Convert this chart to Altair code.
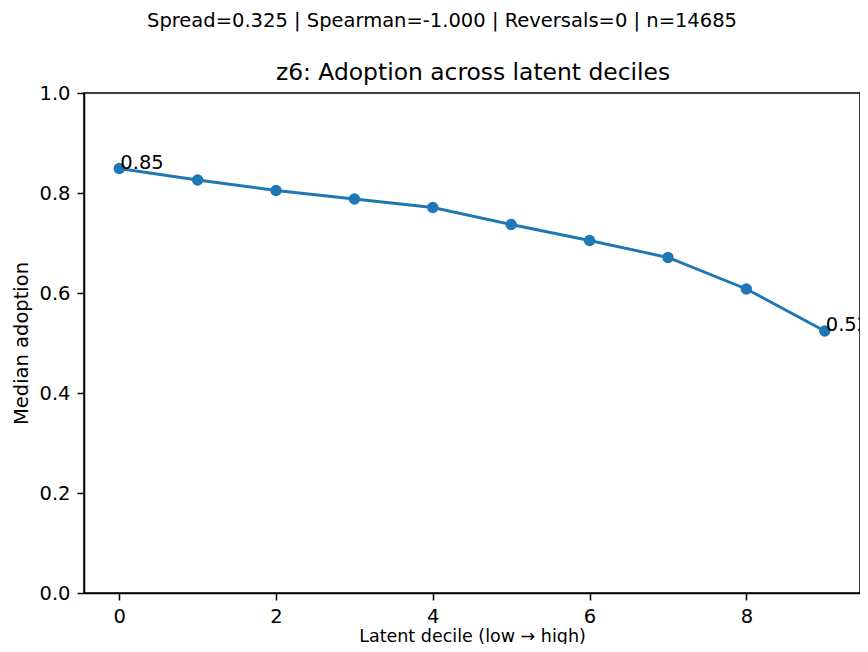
import altair as alt
import pandas as pd

deciles = [0, 1, 2, 3, 4, 5, 6, 7, 8, 9]
median_adoption = [0.849, 0.826, 0.805, 0.788, 0.771, 0.737, 0.705, 0.671, 0.608, 0.524]
x_ticks = [0, 2, 4, 6, 8]
y_ticks = [0.0, 0.2, 0.4, 0.6, 0.8, 1.0]
title_text = "z6: Adoption across latent deciles"
suptitle_text = "Spread=0.325 | Spearman=-1.000 | Reversals=0 | n=14685"
x_title = "Latent decile (low \u2192 high)"
y_title = "Median adoption"

FONT = "DejaVu Sans"
BLUE = "#1f77b4"

df = pd.DataFrame({"decile": deciles, "adoption": median_adoption})
ends = pd.DataFrame({"decile": [deciles[0], deciles[-1]],
                     "adoption": [median_adoption[0], median_adoption[-1]]})
one = pd.DataFrame({"k": [0]})

x_enc = alt.X("decile:Q",
              scale=alt.Scale(domain=[-0.45, 9.45], nice=False, zero=False),
              axis=alt.Axis(values=x_ticks, format="d", title=x_title,
                            titleX=388, titleY=48, titleBaseline="alphabetic",
                            titleFontSize=17.5))
y_enc = alt.Y("adoption:Q",
              scale=alt.Scale(domain=[0, 1], nice=False),
              axis=alt.Axis(values=y_ticks, format=".1f", title=y_title,
                            titleX=-63, titleY=250, titleBaseline="middle"))

line = alt.Chart(df).mark_line(color=BLUE, strokeWidth=2.9).encode(x=x_enc, y=y_enc)
pts = alt.Chart(df).mark_point(filled=True, color=BLUE, size=130, opacity=1).encode(x=x_enc, y=y_enc)
ann = alt.Chart(ends).mark_text(align="left", baseline="alphabetic", dx=1,
                                font=FONT, fontSize=19.5, color="black").encode(
    x="decile:Q", y="adoption:Q", text=alt.Text("adoption:Q", format=".2f"))

title = alt.Chart(one).mark_text(text=title_text, align="center", baseline="alphabetic",
                                 font=FONT, fontSize=23.4, color="black").encode(
    x=alt.value(389), y=alt.value(-13))
sup = alt.Chart(one).mark_text(text=suptitle_text, align="center", baseline="alphabetic",
                               font=FONT, fontSize=19.5, color="black").encode(
    x=alt.value(358), y=alt.value(-66))

chart = alt.layer(line, pts, ann, title, sup).properties(
    width=776, height=500,
    autosize=alt.AutoSizeParams(type="none"),
    padding={"left": 76, "top": 85, "right": 0, "bottom": 51},
).configure_view(stroke="black", strokeWidth=1.5).configure_axis(
    grid=False, labelFont=FONT, labelFontSize=19.5, labelColor="black",
    titleFont=FONT, titleFontSize=19.5, titleColor="black", titleFontWeight="normal",
    tickColor="black", tickSize=7, tickWidth=1.5, labelPadding=7,
    domainColor="black", domainWidth=1.5,
)

chart.save("out.html", embed_options={"renderer": "svg", "actions": False})
